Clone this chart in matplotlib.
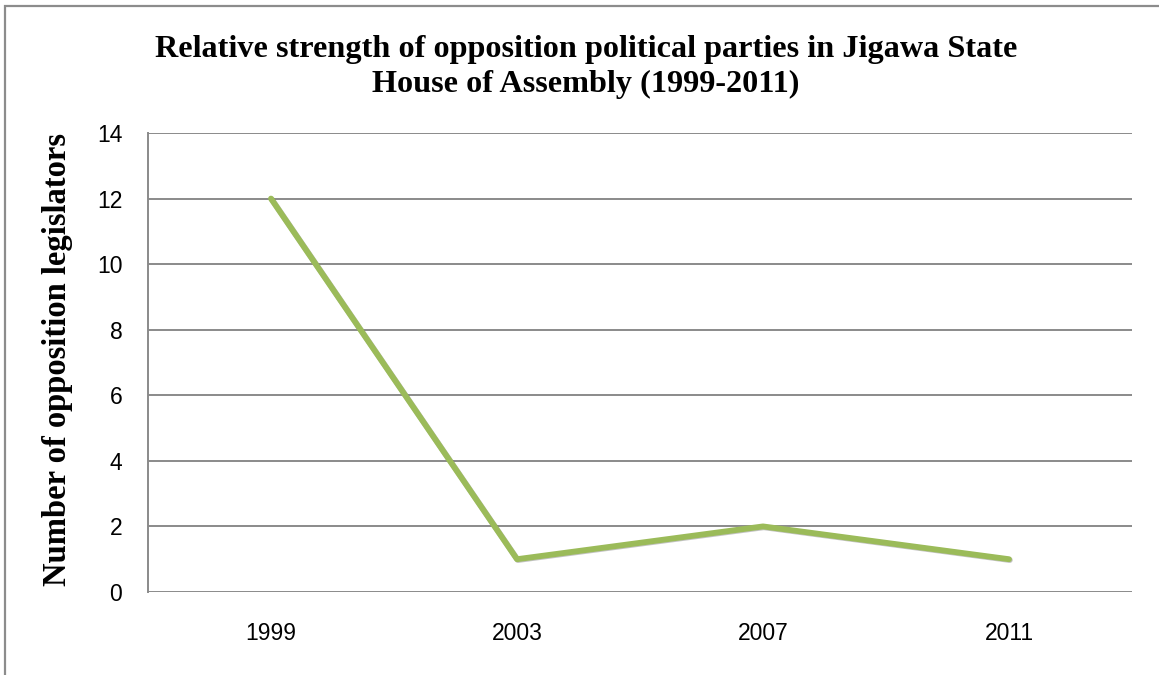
import matplotlib
matplotlib.use("Agg")
import matplotlib.pyplot as plt
import matplotlib.patheffects as pe
from matplotlib.patches import Rectangle

years = ["1999", "2003", "2007", "2011"]
opposition_legislators = [12, 1, 2, 1]
y_ticks = [0, 2, 4, 6, 8, 10, 12, 14]

title_lines = ["Relative strength of opposition political parties in Jigawa State",
               "House of Assembly (1999-2011)"]
y_label = "Number of opposition legislators"

W, H = 1159, 675
fig = plt.figure(figsize=(W / 100, H / 100), dpi=100)
fig.patch.set_facecolor("white")

# outer chart frame (only top and left edges fall inside the canvas)
fig.patches.append(Rectangle((5 / W, -0.1), 1.2, 1 - 6 / H + 0.1,
                             transform=fig.transFigure, fill=False,
                             edgecolor="#8c8c8c", linewidth=1.6))

ax = fig.add_axes([148 / W, 1 - 592 / H, (1132 - 148) / W, (592 - 133) / H])
x = [i + 0.5 for i in range(len(years))]
grid_color = "#8a8a8a"

ax.plot(x, opposition_legislators, color="#9bbb59", linewidth=4.2,
        solid_capstyle="round", solid_joinstyle="round", zorder=3,
        path_effects=[pe.SimpleLineShadow(offset=(0.6, -0.6), shadow_color="#555555",
                                          alpha=0.35),
                      pe.Normal()])

ax.set_xlim(0, len(years))
ax.set_ylim(0, 14)
ax.set_yticks(y_ticks)
ax.set_xticks(x)
ax.set_xticklabels(years)
for t in y_ticks:
    ax.axhline(t, color=grid_color, linewidth=1.4, zorder=1)

for side in ["top", "right", "bottom"]:
    ax.spines[side].set_visible(False)
ax.spines["left"].set_color(grid_color)
ax.spines["left"].set_linewidth(1.4)

ax.tick_params(axis="both", length=0)
ax.tick_params(axis="y", pad=18.5)
ax.tick_params(axis="x", pad=21.5)
for lbl in ax.get_xticklabels() + ax.get_yticklabels():
    lbl.set_fontfamily("Liberation Sans")
    lbl.set_fontsize(16.5)

title_font = dict(family="Liberation Serif", weight="bold", fontsize=23.2)
fig.text(586 / W, 1 - 57 / H, title_lines[0], ha="center", va="baseline", **title_font)
fig.text(586 / W, 1 - 92 / H, title_lines[1], ha="center", va="baseline", **title_font)
fig.text(58 / W, 1 - 360 / H, y_label, ha="center", va="center", rotation=90,
         family="Liberation Serif", weight="bold", fontsize=23.5)

fig.savefig("out.png", dpi=100, facecolor="white")
